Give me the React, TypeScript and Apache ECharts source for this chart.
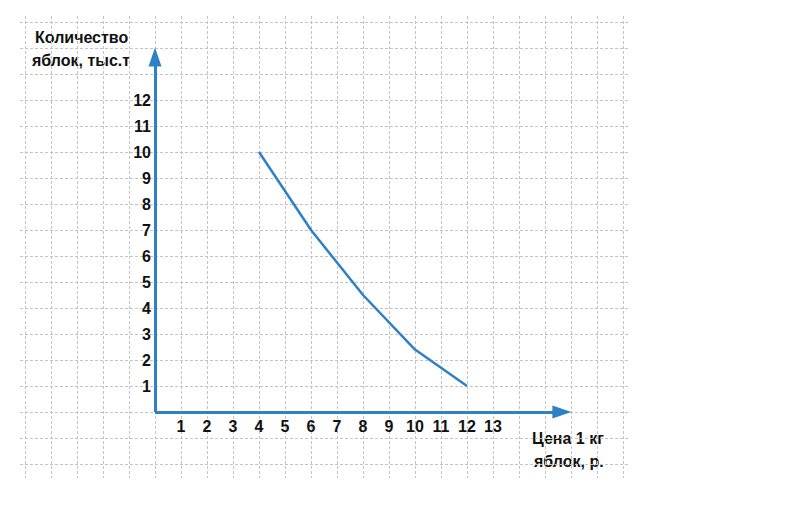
import React, { useEffect, useRef } from "react";
import * as echarts from "echarts";

const xTickLabels = ["1", "2", "3", "4", "5", "6", "7", "8", "9", "10", "11", "12", "13"];
const yTickLabels = ["1", "2", "3", "4", "5", "6", "7", "8", "9", "10", "11", "12"];
const priceValues = [4, 6, 8, 10, 12];
const quantityValues = [10, 7, 4.5, 2.4, 1];
const xAxisEnd = 15.65;
const yAxisEnd = 13.65;

const BLUE = "#2f80c6";
const GRID = "#c4c4c4";
const FONT = "Liberation Sans";

export default function App() {
  const ref = useRef<HTMLDivElement>(null);
  useEffect(() => {
    document.body.style.margin = "0";
    const chart = echarts.init(ref.current!, null, { renderer: "svg" });
    const hiddenAxis = {
      axisLine: { show: false },
      axisTick: { show: false },
      axisLabel: { show: false },
      splitLine: { show: false },
    };
    const gridLine = { show: true, lineStyle: { color: GRID, type: [3, 2], width: 1 } };
    const tickLabel = {
      fontSize: 16,
      fontWeight: "bold",
      color: "#111",
      fontFamily: FONT,
    };
    const titleStyle = (text: string) => ({
      text,
      fill: "#111",
      fontSize: 16,
      fontWeight: "bold",
      fontFamily: FONT,
      align: "left",
      verticalAlign: "middle",
    });
    const option: any = {
      animation: false,
      backgroundColor: "#ffffff",
      grid: [
        { left: 155, right: 177, top: 22, bottom: 96 },
        { left: 20, right: 172, top: 22, bottom: 44 },
        { left: 25, right: 177, top: 16, bottom: 30 },
      ],
      xAxis: [
        {
          gridIndex: 0,
          type: "value",
          min: 0,
          max: 18,
          interval: 1,
          position: "bottom",
          splitLine: { show: false },
          axisLine: { show: false },
          axisTick: { show: false },
          axisLabel: {
            ...tickLabel,
            margin: 6,
            formatter: (v: number) => (xTickLabels.indexOf(String(v)) >= 0 ? String(v) : ""),
          },
        },
        { gridIndex: 1, type: "value", min: -5, max: 18, ...hiddenAxis },
        {
          gridIndex: 2,
          type: "value",
          min: -5,
          max: 18,
          interval: 1,
          axisLine: { show: false },
          axisTick: { show: false },
          axisLabel: { show: false },
          splitLine: gridLine,
        },
      ],
      yAxis: [
        {
          gridIndex: 0,
          type: "value",
          min: 0,
          max: 15,
          interval: 1,
          position: "left",
          splitLine: { show: false },
          axisLine: { show: false },
          axisTick: { show: false },
          axisLabel: {
            ...tickLabel,
            margin: 4,
            formatter: (v: number) => (yTickLabels.indexOf(String(v)) >= 0 ? String(v) : ""),
          },
        },
        {
          gridIndex: 1,
          type: "value",
          min: -2,
          max: 15,
          interval: 1,
          axisLine: { show: false },
          axisTick: { show: false },
          axisLabel: { show: false },
          splitLine: gridLine,
        },
        { gridIndex: 2, type: "value", min: -2, max: 15, ...hiddenAxis },
      ],
      graphic: [
        { type: "text", x: 35, y: 37, style: titleStyle("Количество") },
        { type: "text", x: 32, y: 60, style: titleStyle("яблок, тыс.т") },
        { type: "text", x: 532, y: 438, style: titleStyle("Цена 1 кг") },
        { type: "text", x: 534, y: 461, style: titleStyle("яблок, р.") },
      ],
      series: [
        {
          type: "line",
          xAxisIndex: 0,
          yAxisIndex: 0,
          data: priceValues.map((x, i) => [x, quantityValues[i]]),
          showSymbol: false,
          symbol: "none",
          lineStyle: { color: BLUE, width: 2.5 },
          silent: true,
          z: 5,
          markLine: {
            silent: true,
            symbol: ["none", "triangle"],
            symbolSize: [13, 19],
            label: { show: false },
            lineStyle: { color: BLUE, width: 3, type: "solid" },
            data: [
              [{ coord: [0, 0] }, { coord: [xAxisEnd, 0] }],
              [{ coord: [0, 0] }, { coord: [0, yAxisEnd] }],
            ],
          },
        },
      ],
    };
    chart.setOption(option);
    return () => chart.dispose();
  }, []);
  return (
    <div
      ref={ref}
      style={{ position: "absolute", left: 0, top: 0, width: 800, height: 508 }}
    />
  );
}
